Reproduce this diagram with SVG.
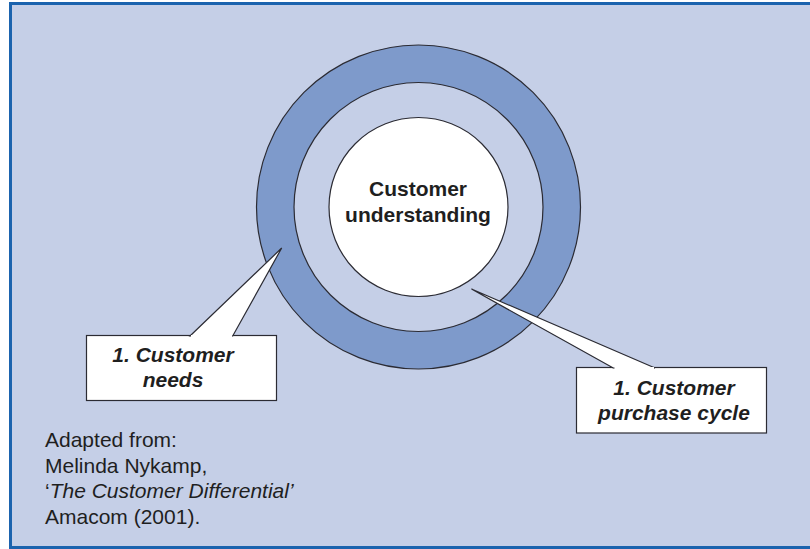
<svg xmlns="http://www.w3.org/2000/svg" width="810" height="549" viewBox="0 0 810 549">
<style>
.ln{stroke:#2b2b33;stroke-width:1.2}
.t{font-family:"Liberation Sans",Arial,sans-serif;font-size:21px;fill:#1f1f1f}
.b{font-weight:bold}
.bi{font-weight:bold;font-style:italic}
.i{font-style:italic}
</style>
<rect x="0" y="0" width="810" height="549" fill="#ffffff"/>
<rect x="9" y="2" width="801" height="547" fill="#c5cfe7"/>
<g id="frame" fill="none" stroke="#1b63ae" stroke-width="3">
<line x1="10.5" y1="3.5" x2="810" y2="3.5"/>
<line x1="10.5" y1="2" x2="10.5" y2="549"/>
<line x1="9" y1="547.5" x2="810" y2="547.5"/>
</g>
<g id="ring-outer">
<circle cx="418.5" cy="207" r="162" fill="#7e9acb" class="ln"/>
</g>
<g id="ring-middle">
<circle cx="418.5" cy="207" r="124.5" fill="#c5cfe7" class="ln"/>
</g>
<g id="core">
<circle cx="418.5" cy="207" r="89.5" fill="#ffffff" class="ln"/>
<text class="t b" x="418" y="196" text-anchor="middle">Customer</text>
<text class="t b" x="418" y="222" text-anchor="middle">understanding</text>
</g>
<g id="connectors"/>
<g id="callout-needs">
<rect x="86.5" y="335.5" width="190" height="65" fill="#ffffff" class="ln"/>
<polygon points="190,336 281.7,248 232.7,336" fill="#ffffff" class="ln" stroke-linejoin="miter"/>
<line x1="191" y1="336" x2="232" y2="336" stroke="#ffffff" stroke-width="2"/>
<text class="t bi" x="173" y="362" text-anchor="middle">1. Customer</text>
<text class="t bi" x="173" y="387" text-anchor="middle">needs</text>
</g>
<g id="callout-purchase">
<rect x="576.5" y="367.5" width="190" height="65.5" fill="#ffffff" class="ln"/>
<polygon points="613.3,368 471.5,289 655,368" fill="#ffffff" class="ln"/>
<line x1="614.5" y1="368" x2="654" y2="368" stroke="#ffffff" stroke-width="2"/>
<text class="t bi" x="674" y="394.5" text-anchor="middle">1. Customer</text>
<text class="t bi" x="674" y="419.5" text-anchor="middle">purchase cycle</text>
</g>
<g id="source">
<text class="t" x="45" y="446.5">Adapted from:</text>
<text class="t" x="45" y="472.5">Melinda Nykamp,</text>
<text class="t" x="45" y="498"><tspan>‘</tspan><tspan class="i">The Customer Differential’</tspan></text>
<text class="t" x="45" y="523.5">Amacom (2001).</text>
</g>
</svg>
